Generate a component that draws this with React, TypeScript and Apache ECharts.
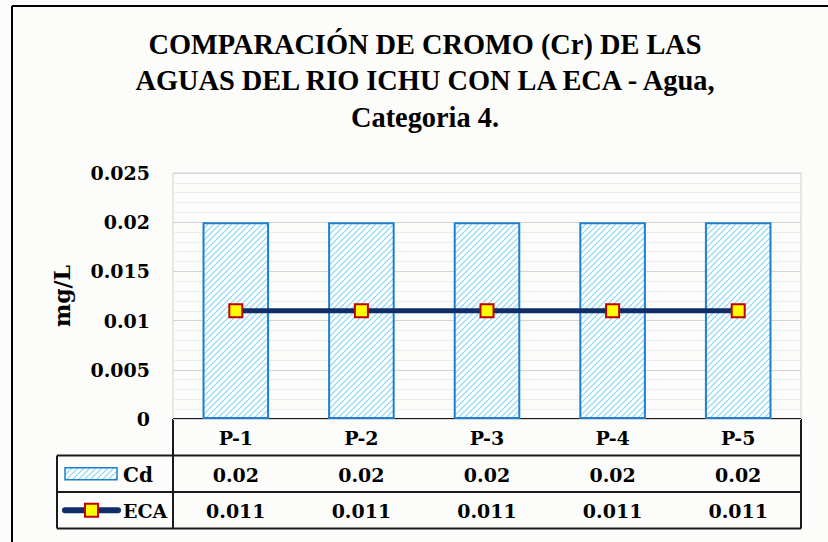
import React, { useEffect, useRef } from "react";
import * as echarts from "echarts";

const categories = ["P-1", "P-2", "P-3", "P-4", "P-5"];
const cdValues = [0.02, 0.02, 0.02, 0.02, 0.02];
const ecaValues = [0.011, 0.011, 0.011, 0.011, 0.011];
const seriesNames = ["Cd", "ECA"];
const titleLines = [
  "COMPARACIÓN DE CROMO (Cr) DE LAS",
  "AGUAS DEL RIO ICHU CON LA ECA - Agua,",
  "Categoria 4.",
];
const yAxisName = "mg/L";

const W = 828;
const H = 542;
const G = { left: 173, top: 173, right: 27, bottom: 123 };
const SERIF = "'DejaVu Serif', serif";
const TITLE_FONT = "'Liberation Serif', 'DejaVu Serif', serif";
const TITLE_SIZE = 29;

function makeHatch() {
  const c = document.createElement("canvas");
  c.width = 6;
  c.height = 6;
  const ctx = c.getContext("2d")!;
  ctx.fillStyle = "#ffffff";
  ctx.fillRect(0, 0, 6, 6);
  ctx.strokeStyle = "#86d5f7";
  ctx.lineWidth = 1.2;
  ctx.beginPath();
  ctx.moveTo(0, 6);
  ctx.lineTo(6, 0);
  ctx.moveTo(-1, 1);
  ctx.lineTo(1, -1);
  ctx.moveTo(5, 7);
  ctx.lineTo(7, 5);
  ctx.stroke();
  return c;
}

function titleScale() {
  const c = document.createElement("canvas");
  const ctx = c.getContext("2d")!;
  ctx.font = `bold ${TITLE_SIZE}px ${TITLE_FONT}`;
  const w = ctx.measureText(titleLines[0]).width;
  return w > 0 ? 553 / w : 1;
}

export default function App() {
  const ref = useRef<HTMLDivElement>(null);
  useEffect(() => {
    if (!ref.current) return;
    const chart = echarts.init(ref.current, undefined, { renderer: "svg" });
    const hatch = { image: makeHatch(), repeat: "repeat" } as any;
    const plotW = W - G.left - G.right;
    const bottomY = H - G.bottom;
    const catW = plotW / categories.length;
    const rowH = 36.5;
    const r1 = bottomY;
    const r2 = r1 + rowH;
    const r3 = r2 + rowH;
    const r4 = r3 + rowH;
    const legLeft = 57;
    const right = G.left + plotW;
    const lineColor = "#1a1a1a";
    const textStyle = { fontFamily: SERIF, fontWeight: "bold", fontSize: 19, fill: "#000" };

    const graphics: any[] = [];
    graphics.push({ type: "line", shape: { x1: 12, y1: 6, x2: 12, y2: H }, style: { stroke: "#000", lineWidth: 2 } });
    graphics.push({ type: "line", shape: { x1: 12, y1: 6, x2: W, y2: 6 }, style: { stroke: "#000", lineWidth: 2 } });
    const ts = titleScale();
    titleLines.forEach((t, i) => {
      graphics.push({
        type: "text",
        x: 425,
        y: 58 + i * 36.5,
        scaleX: ts,
        style: {
          text: t,
          x: 0,
          y: 0,
          align: "center",
          verticalAlign: "bottom",
          fontFamily: TITLE_FONT,
          fontWeight: "bold",
          fontSize: TITLE_SIZE,
          fill: "#000",
        },
      });
    });
    const hl = (x1: number, y: number, x2: number) =>
      graphics.push({ type: "line", shape: { x1, y1: y, x2, y2: y }, style: { stroke: lineColor, lineWidth: 2 } });
    const vl = (x: number, y1: number, y2: number) =>
      graphics.push({ type: "line", shape: { x1: x, y1, x2: x, y2 }, style: { stroke: lineColor, lineWidth: 2 } });
    hl(G.left, r1, right);
    hl(legLeft, r2, right);
    hl(legLeft, r3, right);
    hl(legLeft, r4, right);
    vl(G.left, r1, r4);
    vl(right, r1, r4);
    vl(legLeft, r2, r4);
    categories.forEach((c, i) => {
      const cx = G.left + (i + 0.5) * catW;
      graphics.push({ type: "text", x: cx, y: (r1 + r2) / 2 + 1, style: { ...textStyle, text: c, align: "center", verticalAlign: "middle" } });
      graphics.push({ type: "text", x: cx, y: (r2 + r3) / 2 + 1, style: { ...textStyle, text: String(cdValues[i]), align: "center", verticalAlign: "middle" } });
      graphics.push({ type: "text", x: cx, y: (r3 + r4) / 2 + 1, style: { ...textStyle, text: String(ecaValues[i]), align: "center", verticalAlign: "middle" } });
    });
    graphics.push({ type: "rect", shape: { x: 65, y: (r2 + r3) / 2 - 6, width: 52, height: 12 }, style: { fill: hatch, stroke: "#1f7fcf", lineWidth: 1.5 } });
    graphics.push({ type: "text", x: 123, y: (r2 + r3) / 2 + 1, style: { ...textStyle, fontSize: 20, text: seriesNames[0], align: "left", verticalAlign: "middle" } });
    graphics.push({ type: "line", shape: { x1: 65, y1: (r3 + r4) / 2, x2: 118, y2: (r3 + r4) / 2 }, style: { stroke: "#0f2d66", lineWidth: 6, lineCap: "round" } });
    graphics.push({ type: "rect", shape: { x: 85, y: (r3 + r4) / 2 - 6.5, width: 13, height: 13 }, style: { fill: "#ffff00", stroke: "#c00000", lineWidth: 2 } });
    graphics.push({ type: "text", x: 123, y: (r3 + r4) / 2 + 1, style: { ...textStyle, fontSize: 19, text: seriesNames[1], align: "left", verticalAlign: "middle" } });

    chart.setOption({
      animation: false,
      backgroundColor: "#fcfcfa",
      grid: { ...G, show: true, borderColor: "#d0d0d0", borderWidth: 1 },
      xAxis: {
        type: "category",
        data: categories,
        axisLine: { show: false },
        axisTick: { show: false },
        axisLabel: { show: false },
        splitLine: { show: false },
      },
      yAxis: {
        type: "value",
        min: 0,
        max: 0.025,
        interval: 0.005,
        name: yAxisName,
        nameLocation: "middle",
        nameRotate: 90,
        nameGap: 100,
        nameTextStyle: { fontFamily: SERIF, fontWeight: "bold", fontSize: 22, color: "#000" },
        axisLine: { show: false },
        axisTick: { show: false },
        axisLabel: {
          margin: 23,
          fontFamily: SERIF,
          fontWeight: "bold",
          fontSize: 19,
          color: "#000",
          formatter: (v: number) => String(Number(v.toFixed(3))),
        },
        splitLine: { show: true, lineStyle: { color: "#d4d4d4", width: 1 } },
        minorTick: { show: false, splitNumber: 5 },
        minorSplitLine: { show: true, lineStyle: { color: "#ececec", width: 1 } },
      },
      series: [
        {
          name: seriesNames[0],
          type: "bar",
          data: cdValues,
          barWidth: "53%",
          itemStyle: { color: hatch, borderColor: "#1f7fcf", borderWidth: 2 },
          z: 2,
        },
        {
          name: seriesNames[1],
          type: "line",
          data: ecaValues,
          symbol: "rect",
          symbolSize: 13,
          lineStyle: { color: "#0f2d66", width: 5 },
          itemStyle: { color: "#ffff00", borderColor: "#c00000", borderWidth: 2 },
          z: 3,
        },
      ],
      graphic: graphics,
    });
    return () => chart.dispose();
  }, []);
  return <div ref={ref} style={{ width: W, height: H, position: "absolute", left: 0, top: 0 }} />;
}
